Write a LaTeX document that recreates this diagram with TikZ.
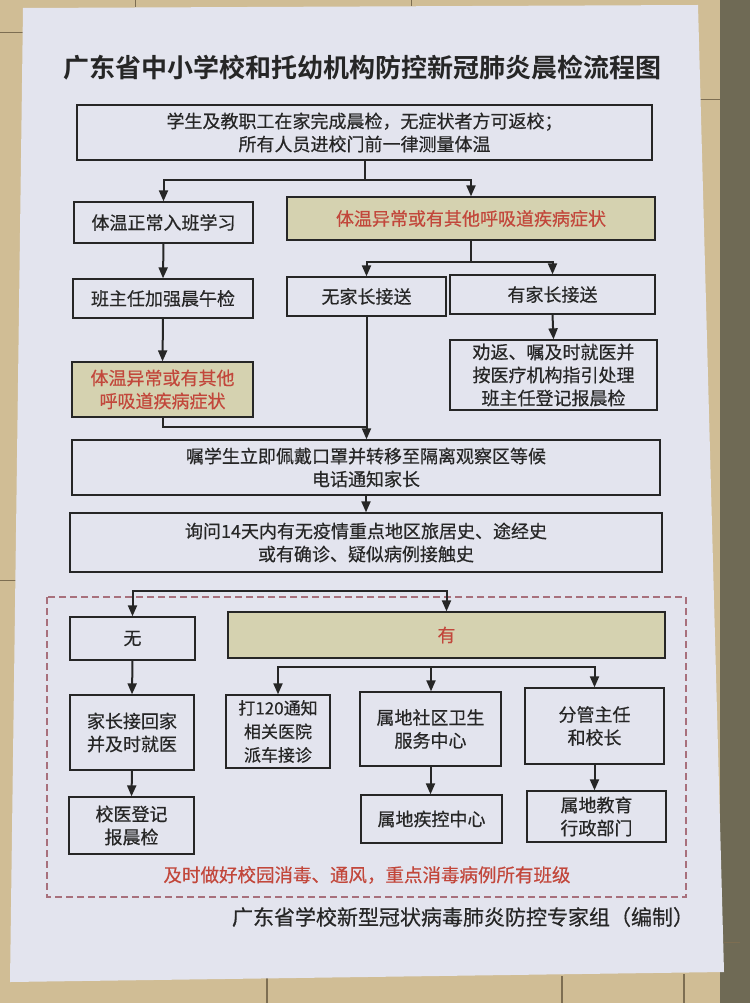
\documentclass[tikz,border=0pt]{standalone}
\usepackage{fontspec}
\setmainfont{Noto Sans CJK SC}
\newfontfamily\bodyfont{Noto Sans CJK SC}[FakeBold=0.45]
\newfontfamily\titlefont{Noto Sans CJK SC Bold}
\usetikzlibrary{arrows.meta}
\definecolor{wall}{HTML}{D0BD95}
\definecolor{walldark}{HTML}{6F6A55}
\definecolor{joint}{HTML}{7D6E52}
\definecolor{paper}{HTML}{E3E4EE}
\definecolor{khaki}{HTML}{D5D2B0}
\definecolor{redtxt}{HTML}{C2473B}
\definecolor{ink}{HTML}{262626}
\definecolor{dashred}{HTML}{A8707C}
\tikzset{
  box/.style={draw=ink, line width=1.3pt, align=center, inner sep=0pt,
    text=ink, font=\fontsize{18}{23}\selectfont\bodyfont},
  hbox/.style={box, fill=khaki, text=redtxt},
  conn/.style={draw=ink, line width=2pt},
  arr/.style={conn, -{Triangle[length=11pt,width=9pt]}},
}
\begin{document}
\begin{tikzpicture}[x=1pt,y=-1pt]
\useasboundingbox (0,0) rectangle (750,1003);
% wall
\fill[wall] (0,0) rectangle (750,1003);
\fill[walldark] (720,0) rectangle (750,1003);
\draw[joint, line width=1pt] (0,33) -- (24,33);
\draw[joint, line width=1pt] (0,580) -- (16,580);
\draw[joint, line width=1pt] (698,100) -- (720,100);
\draw[joint, line width=1pt] (724,942) -- (740,942);
\draw[joint, line width=1.5pt] (267,978) -- (267,1003);
\draw[joint, line width=1.5pt] (562,976) -- (562,1003);
\draw[joint, line width=1.5pt] (684,974) -- (684,1003);
\draw[joint, line width=1pt] (135,0) -- (135,7);
\draw[joint, line width=1pt] (411,0) -- (411,6);
% poster
\fill[paper] (23,8) -- (698,5) -- (724,972) -- (10,982) -- cycle;

% title
\node[font=\fontsize{26}{30}\selectfont\titlefont, text=ink] (title) at (362.5,68) {广东省中小学校和托幼机构防控新冠肺炎晨检流程图};

% boxes
\node[box, minimum width=575pt, minimum height=55pt] (b1) at (364.5,132.5) {学生及教职工在家完成晨检，无症状者方可返校；\\所有人员进校门前一律测量体温};
\node[box, minimum width=179pt, minimum height=41pt] (normal) at (163.5,222.5) {体温正常入班学习};
\node[hbox, minimum width=368pt, minimum height=43pt] (abn1) at (471,218.5) {体温异常或有其他呼吸道疾病症状};
\node[box, minimum width=159pt, minimum height=39pt] (nopar) at (366.5,296.5) {无家长接送};
\node[box, minimum width=205pt, minimum height=39pt] (haspar) at (552.5,294.5) {有家长接送};
\node[box, minimum width=207pt, minimum height=70pt] (advise) at (553.5,375) {劝返、嘱及时就医并\\按医疗机构指引处理\\班主任登记报晨检};
\node[box, minimum width=180pt, minimum height=39pt] (check) at (163,298.5) {班主任加强晨午检};
\node[hbox, minimum width=181pt, minimum height=55pt] (abn2) at (162.5,389.5) {体温异常或有其他\\呼吸道疾病症状};
\node[box, minimum width=588pt, minimum height=55pt] (mask) at (366,467.5) {嘱学生立即佩戴口罩并转移至隔离观察区等候\\电话通知家长};
\node[box, minimum width=592pt, minimum height=59pt] (ask) at (366,542.5) {询问14天内有无疫情重点地区旅居史、途经史\\或有确诊、疑似病例接触史};

% dashed region
\draw[dashred, line width=1.1pt, dash pattern=on 7pt off 4pt] (47,597) rectangle (686,897);

\node[box, minimum width=125pt, minimum height=43pt] (none) at (132.5,638.5) {无};
\node[hbox, minimum width=437pt, minimum height=46pt] (yes) at (446.5,635) {有};
\node[box, minimum width=124pt, minimum height=75pt] (home) at (132,732.5) {家长接回家\\并及时就医};
\node[box, minimum width=125pt, minimum height=57pt] (doc) at (131.5,825.5) {校医登记\\报晨检};
\node[box, minimum width=104pt, minimum height=73pt, font=\fontsize{17}{23.5}\selectfont\bodyfont] (c120) at (278,731.5) {打120通知\\相关医院\\派车接诊};
\node[box, minimum width=141pt, minimum height=74pt] (comm) at (430.5,729) {属地社区卫生\\服务中心};
\node[box, minimum width=139pt, minimum height=76pt] (mgr) at (594.5,726) {分管主任\\和校长};
\node[box, minimum width=141pt, minimum height=48pt] (cdc) at (431.5,819) {属地疾控中心};
\node[box, minimum width=139pt, minimum height=51pt] (edu) at (596.5,816.5) {属地教育\\行政部门};

\node[text=redtxt, font=\fontsize{18.5}{22}\selectfont\bodyfont] (note) at (367,875) {及时做好校园消毒、通风，重点消毒病例所有班级};
\node[text=ink, font=\fontsize{21}{24}\selectfont\bodyfont] (foot) at (463,917) {广东省学校新型冠状病毒肺炎防控专家组（编制）};

% connectors
\coordinate (j1) at (b1.south |- 0,180);
\draw[conn] (b1.south) -- (j1);
\draw[arr] (j1) -| (normal.north);
\draw[arr] (j1) -| (abn1.north);

\coordinate (j2) at (abn1.south |- 0,262);
\draw[conn] (abn1.south) -- (j2);
\draw[arr] (j2) -| (nopar.north);
\draw[arr] (j2) -| (haspar.north);
\draw[arr] (haspar.south) -- (advise.north);

\draw[arr] (normal.south) -- (check.north);
\draw[arr] (check.south) -- (abn2.north);
\draw[conn] (abn2.south) |- (nopar.south |- 0,427);
\draw[arr] (nopar.south) -- (nopar.south |- mask.north);
\draw[arr] (mask.south) -- (ask.north);

\coordinate (j3) at (300,591);
\draw[arr] (j3) -| (none.north);
\draw[arr] (j3) -| (yes.north);
\draw[arr] (none.south) -- (home.north);
\draw[arr] (home.south) -- (doc.north);

\coordinate (j4) at (431,667);
\draw[arr] (j4) -| (c120.north);
\draw[arr] (j4) -| (mgr.north);
\draw[arr] (j4) -- (j4 |- comm.north);
\draw[arr] (comm.south) -- (comm.south |- cdc.north);
\draw[arr] (mgr.south) -- (mgr.south |- edu.north);
\end{tikzpicture}
\end{document}
